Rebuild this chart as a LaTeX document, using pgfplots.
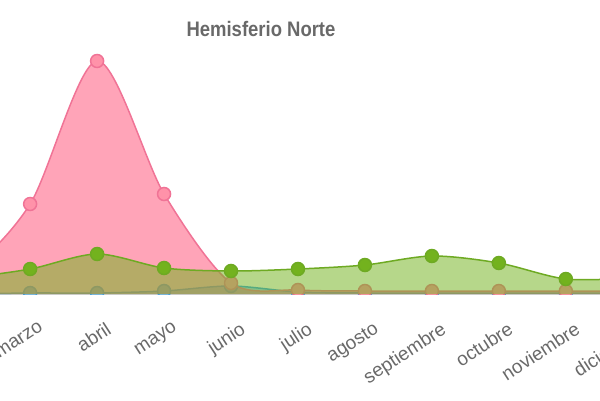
\documentclass[border=0pt]{standalone}
\usepackage{pgfplots}
\pgfplotsset{compat=1.18}
\usepackage{graphicx}
\usepackage{fontspec}
\setmainfont{Liberation Sans}

\definecolor{rosa}{RGB}{255,99,132}
\definecolor{rosaline}{RGB}{240,115,150}
\definecolor{verde}{RGB}{115,178,30}
\definecolor{verdeline}{RGB}{110,170,35}
\definecolor{azul}{RGB}{54,162,235}
\definecolor{texto}{RGB}{105,105,105}

\begin{document}
\begin{tikzpicture}
\begin{axis}[at={(0pt,106pt)}, anchor=south west,
  x=66.96pt, y=1pt,
  xmin=2.55, xmax=12.4, ymin=0, ymax=250,
  clip marker paths=true,
  axis y line=none, axis x line*=bottom,
  x axis line style={draw=gray!30, line width=1pt, -},
  xtick={3,4,5,6,7,8,9,10,11,12},
  xticklabels={marzo,abril,mayo,junio,julio,agosto,septiembre,octubre,noviembre,diciembre},
  xtick style={draw=none},
  xticklabel style={font=\fontsize{19}{22}\selectfont, text=texto, inner sep=0pt,
    anchor=north east, xshift=8pt, yshift=-27pt, rotate=33},
  smooth, tension=0.5, mark size=6.5pt]
% serie azul (casi cero)
\addplot[draw=none, fill=azul, fill opacity=0.5, forget plot] coordinates {
  (1,0) (2,0) (3,1) (4,1) (5,3) (6,8) (7,2) (8,1) (9,1) (10,1) (11,1) (12,1)} \closedcycle;
\addplot[azul, line width=1.5pt, mark=*, mark options={fill=azul!70, draw=azul}] coordinates {
  (1,0) (2,0) (3,1) (4,1) (5,3) (6,8) (7,2) (8,1) (9,1) (10,1) (11,1) (12,1)};
% serie rosa
\addplot[draw=none, fill=rosa, fill opacity=0.58, forget plot] coordinates {
  (1,5) (2,20) (3,90) (4,233) (5,100) (6,11) (7,4) (8,3) (9,3) (10,3) (11,3) (12,3)} \closedcycle;
\addplot[rosaline, line width=1.5pt, mark=*, mark options={fill=rosa!70, draw=rosaline}] coordinates {
  (1,5) (2,20) (3,90) (4,233) (5,100) (6,11) (7,4) (8,3) (9,3) (10,3) (11,3) (12,3)};
% serie verde
\addplot[draw=none, fill=verde, fill opacity=0.52, forget plot] coordinates {
  (1,12) (2,16) (3,25) (4,40) (5,26) (6,23) (7,25) (8,29) (9,38) (10,31) (11,15) (12,16)} \closedcycle;
\addplot[verdeline, line width=1.5pt, mark=*, mark options={fill=verde, draw=verdeline}] coordinates {
  (1,12) (2,16) (3,25) (4,40) (5,26) (6,23) (7,25) (8,29) (9,38) (10,31) (11,15) (12,16)};
\end{axis}
\node[text=texto, font=\bfseries\fontsize{21}{24}\selectfont] at (261pt,371pt)
  {\scalebox{0.88}[1]{Hemisferio Norte}};
\pgfresetboundingbox
\useasboundingbox (0,0) rectangle (600pt,400pt);
\end{tikzpicture}
\end{document}
